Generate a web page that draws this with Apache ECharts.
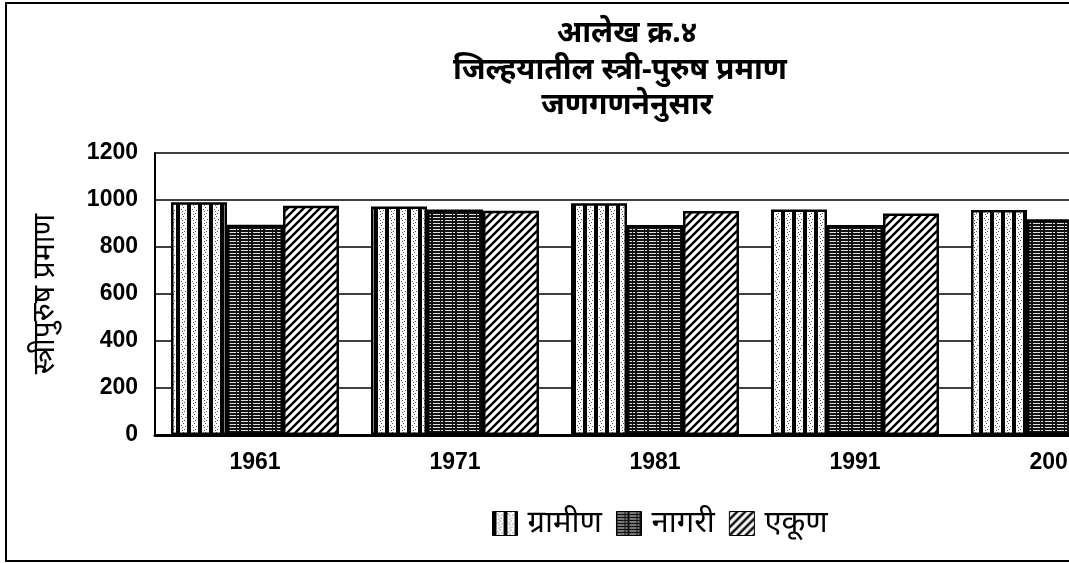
<!DOCTYPE html>
<html>
<head>
<meta charset="utf-8">
<script src="https://cdn.jsdelivr.net/npm/echarts@6/dist/echarts.min.js"></script>
<style>
  html, body { margin: 0; padding: 0; background: #fff; }
  #chart { width: 1069px; height: 563px; }
</style>
</head>
<body>
<div id="chart"></div>
<script>
var years = ['1961', '1971', '1981', '1991', '2001'];
var gramin = [990, 972, 986, 960, 957];
var nagari = [895, 960, 894, 894, 918];
var ekun = [976, 954, 953, 943, 945];
var seriesNames = ['ग्रामीण', 'नागरी', 'एकूण'];
var yTicks = { min: 0, max: 1200, step: 200 };

// fill patterns like the printed hatching
function makePattern(kind) {
  var c = document.createElement('canvas');
  var ctx = c.getContext('2d');
  if (kind === 'vertical') {
    c.width = 11; c.height = 9;
    ctx.fillStyle = '#fff';
    ctx.fillRect(0, 0, 11, 9);
    ctx.fillStyle = '#000';
    ctx.fillRect(0, 0, 4, 9);
    ctx.fillStyle = '#555';
    ctx.fillRect(5, 2, 1, 1);
    ctx.fillRect(8, 6, 1, 1);
    ctx.fillRect(6, 7, 1, 1);
    ctx.fillRect(7, 0, 1, 1);
    ctx.fillRect(9, 3, 1, 1);
    ctx.fillRect(6, 4, 1, 1);
  } else if (kind === 'horizontal') {
    c.width = 12; c.height = 3;
    ctx.fillStyle = '#111';
    ctx.fillRect(0, 0, 12, 3);
    ctx.fillStyle = '#ddd';
    ctx.fillRect(1, 1, 7, 1);
    ctx.fillRect(9, 1, 2, 1);
  } else {
    c.width = 8; c.height = 8;
    ctx.fillStyle = '#fff';
    ctx.fillRect(0, 0, 8, 8);
    ctx.strokeStyle = '#000';
    ctx.lineWidth = 2.4;
    ctx.beginPath();
    ctx.moveTo(-2, 10); ctx.lineTo(10, -2);
    ctx.moveTo(-2, 2); ctx.lineTo(2, -2);
    ctx.moveTo(6, 10); ctx.lineTo(10, 6);
    ctx.stroke();
  }
  return { image: c, repeat: 'repeat' };
}

var fills = [makePattern('vertical'), makePattern('horizontal'), makePattern('diagonal')];
var dataSets = [gramin, nagari, ekun];

var chart = echarts.init(document.getElementById('chart'));
var font = '"Liberation Sans", Arial, sans-serif';
var devFont = '"Noto Sans", sans-serif';

chart.setOption({
  backgroundColor: '#fff',
  animation: false,
  // the scanned chart runs past the right edge, so the plot is wider than the page
  grid: { left: 155, top: 153, bottom: 128, width: 1000, outerBoundsMode: 'none', containLabel: false },
  graphic: [
    { type: 'rect', shape: { x: 6, y: 3, width: 1100, height: 558 },
      style: { fill: 'none', stroke: '#000', lineWidth: 2 } },
    { type: 'text', x: 627, y: 33,
      style: { text: 'आलेख क्र.४', font: 'bold 30px ' + devFont, textAlign: 'center', textVerticalAlign: 'middle', fill: '#000' } },
    { type: 'text', x: 620, y: 70,
      style: { text: 'जिल्हयातील स्त्री-पुरुष प्रमाण', font: 'bold 30px ' + devFont, textAlign: 'center', textVerticalAlign: 'middle', fill: '#000' } },
    { type: 'text', x: 627, y: 105,
      style: { text: 'जणगणनेनुसार', font: 'bold 30px ' + devFont, textAlign: 'center', textVerticalAlign: 'middle', fill: '#000' } }
  ],
  legend: {
    data: seriesNames,
    left: 487, top: 503,
    icon: 'rect', itemWidth: 25, itemHeight: 24, itemGap: 14,
    textStyle: { fontSize: 31, color: '#000', fontFamily: devFont, padding: [0, 0, 0, 5] },
    itemStyle: { borderColor: '#000', borderWidth: 1 }
  },
  xAxis: {
    type: 'category',
    data: years,
    axisLine: { lineStyle: { color: '#000', width: 3 } },
    axisTick: { show: false },
    axisLabel: { color: '#000', fontSize: 23, fontWeight: 'bold', fontFamily: font, margin: 16 }
  },
  yAxis: {
    type: 'value',
    min: yTicks.min, max: yTicks.max, interval: yTicks.step,
    name: 'स्त्रीपुरुष प्रमाण',
    nameLocation: 'middle', nameGap: 95, nameRotate: 90,
    nameTextStyle: { fontSize: 30, color: '#000', fontFamily: devFont },
    axisLine: { show: true, lineStyle: { color: '#000', width: 2 } },
    axisTick: { show: false },
    splitLine: { lineStyle: { color: '#000', width: 1.5 } },
    axisLabel: {
      color: '#000', fontSize: 23, fontWeight: 'bold', fontFamily: font, margin: 17,
      formatter: function (v) { return String(v); }
    }
  },
  series: seriesNames.map(function (name, i) {
    return {
      name: name,
      type: 'bar',
      data: dataSets[i],
      barGap: '0%',
      barCategoryGap: '16%',
      itemStyle: { color: fills[i], borderColor: '#000', borderWidth: 2.5 }
    };
  })
});
</script>
</body>
</html>
